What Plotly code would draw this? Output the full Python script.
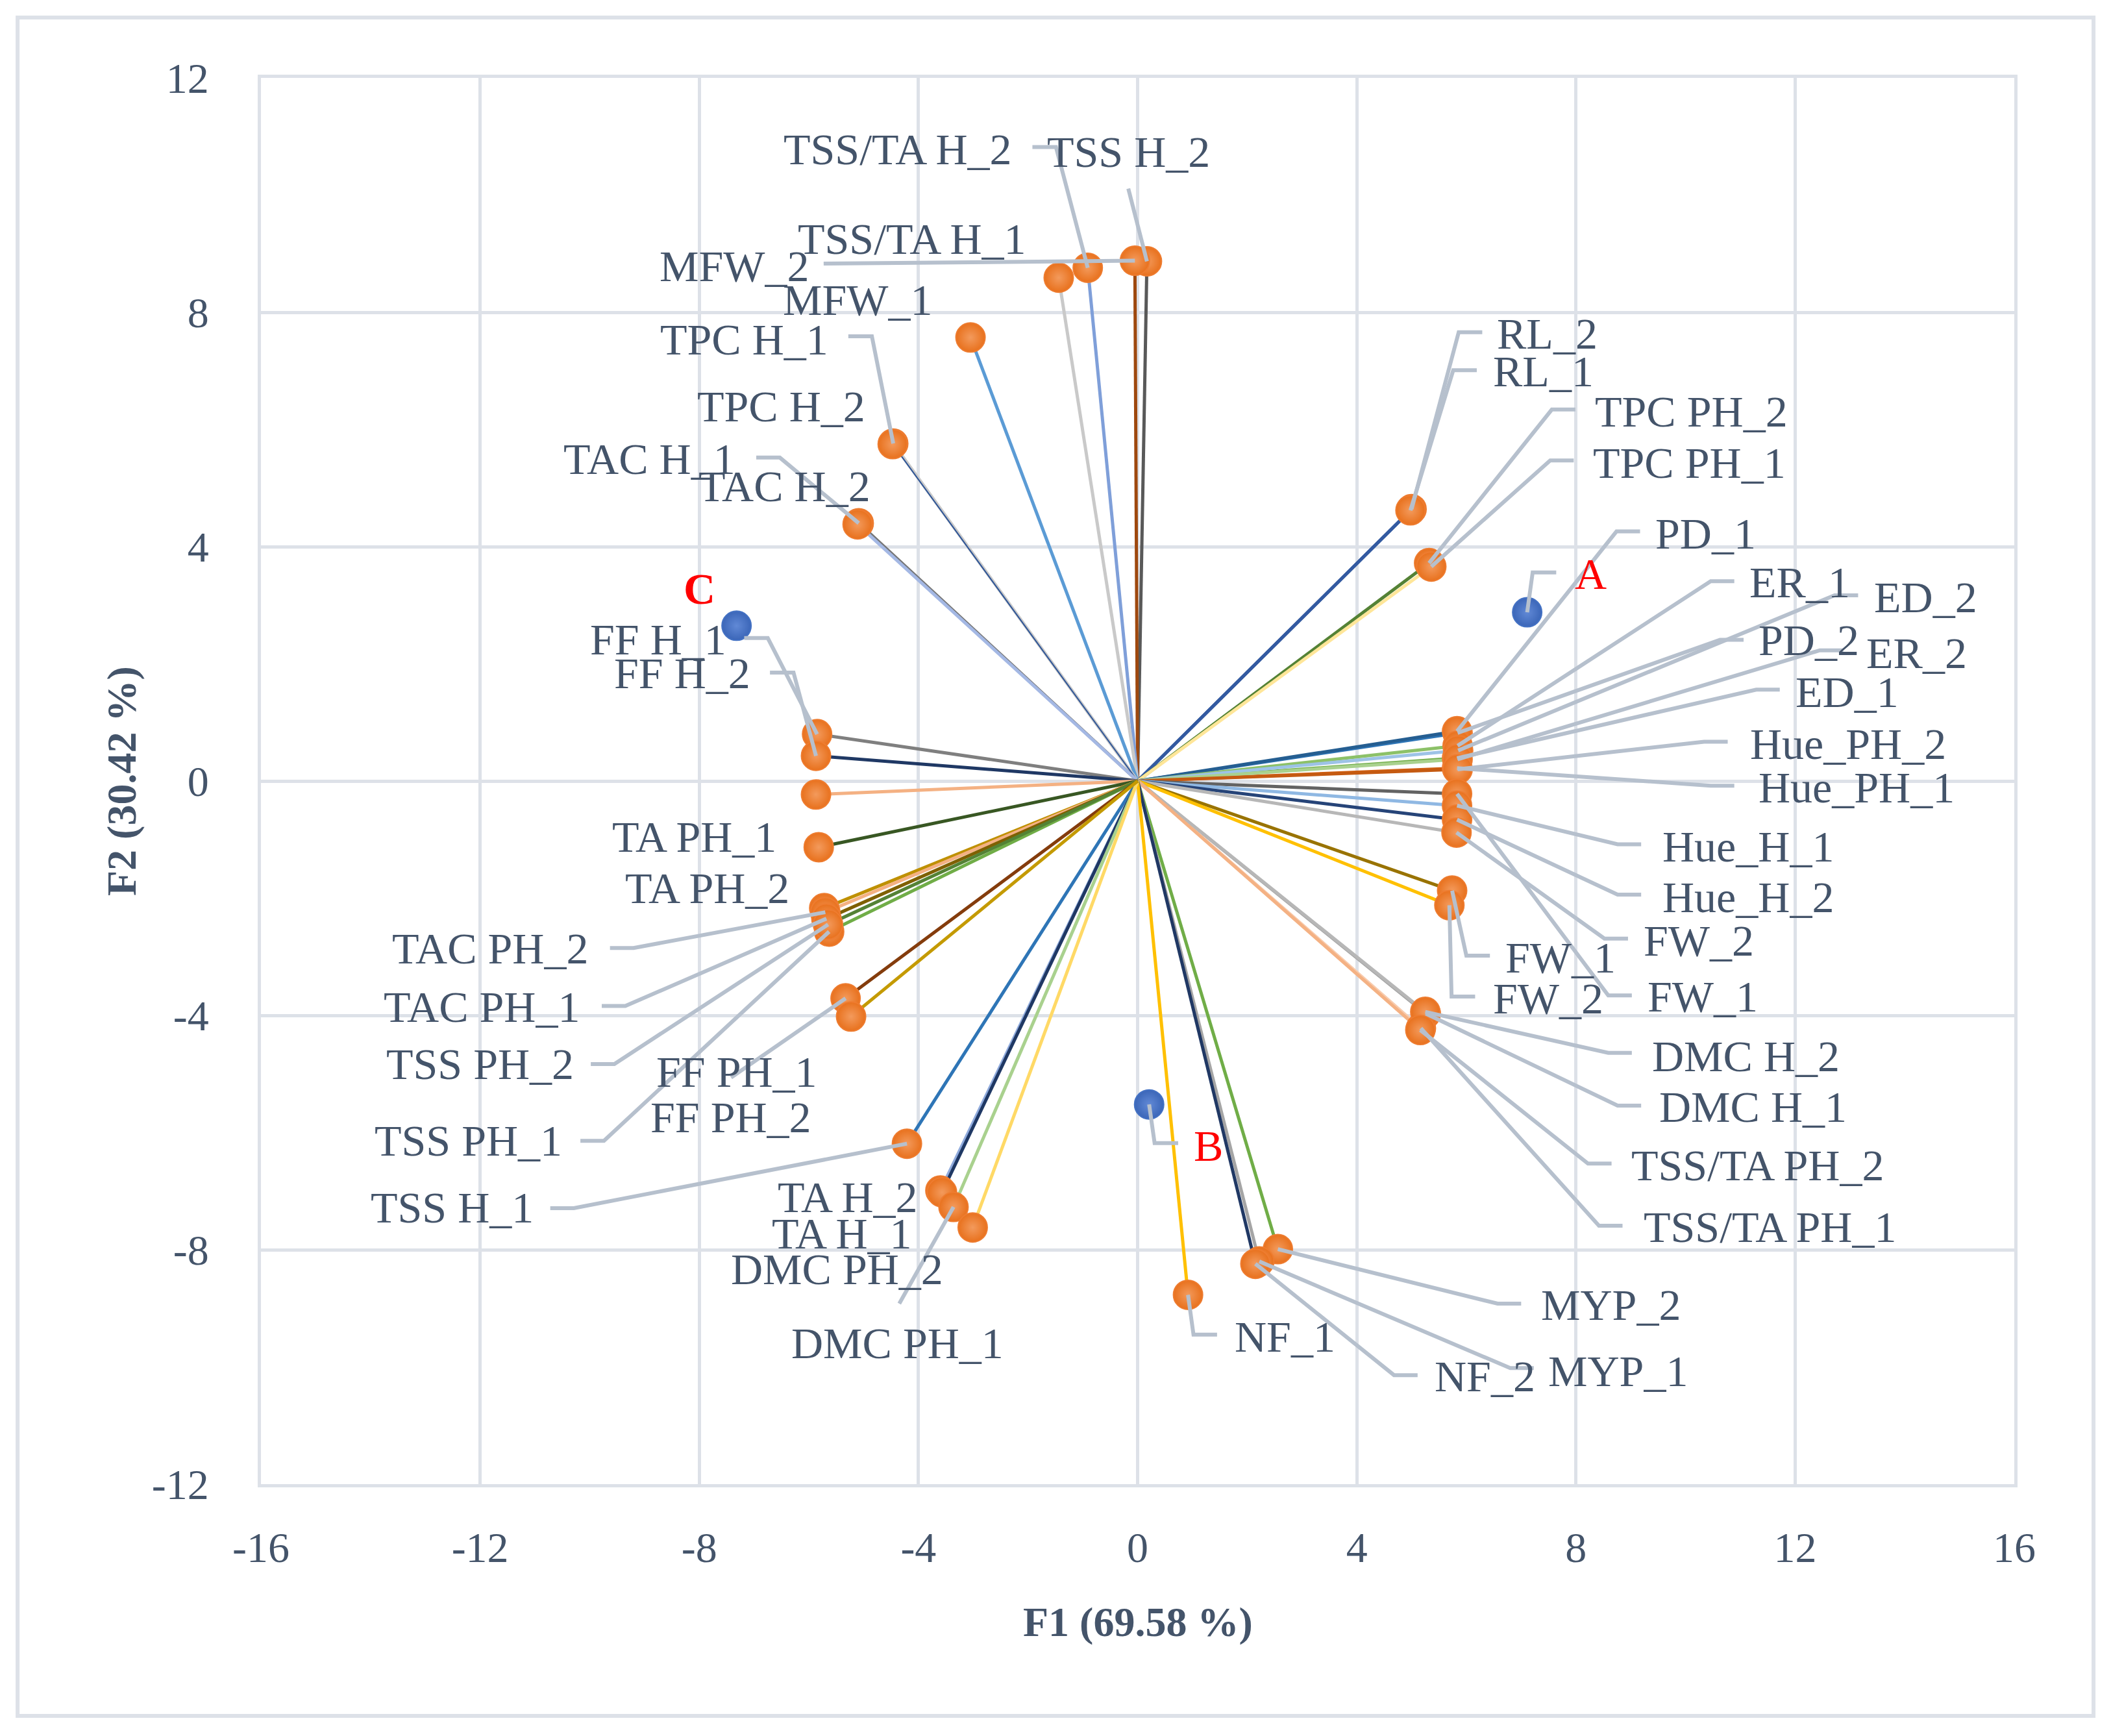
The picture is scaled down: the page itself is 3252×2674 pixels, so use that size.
import plotly.graph_objects as go

FONT = "Liberation Serif, Times New Roman, serif"
TEXT = "#44546a"
GRID = "#dde1e8"
LEADER = "#b6c0cd"

# variable loadings (F1, F2)
names = [
    "TSS H_2", "MFW_2", "TSS/TA H_2", "TSS/TA H_1", "MFW_1",
    "TPC H_1", "TPC H_2", "TAC H_1", "TAC H_2",
    "RL_2", "RL_1", "TPC PH_2", "TPC PH_1",
    "PD_2", "ED_1", "Hue_PH_1", "PD_1", "ER_1", "ED_2", "ER_2", "Hue_PH_2",
    "FW_1", "Hue_H_1", "Hue_H_2", "FW_2",
    "FW_1", "FW_2",
    "DMC H_1", "TSS/TA PH_1", "DMC H_2", "TSS/TA PH_2",
    "MYP_2", "MYP_1", "NF_2", "NF_1",
    "TSS H_1", "TA H_1", "TA H_2", "DMC PH_1", "DMC PH_2",
    "FF H_1", "FF H_2", "", "TA PH_1",
    "TA PH_2", "TAC PH_2", "TAC PH_1", "TSS PH_1", "TSS PH_2",
    "FF PH_1", "FF PH_2",
]
f1 = [
    0.17, -0.05, -0.91, -1.44, -3.05,
    -4.46, -4.47, -5.09, -5.11,
    5.00, 4.98, 5.32, 5.36,
    5.84, 5.83, 5.83, 5.83, 5.84, 5.85, 5.84, 5.84,
    5.83, 5.83, 5.83, 5.82,
    5.74, 5.69,
    5.26, 5.17, 5.25, 5.16,
    2.56, 2.22, 2.15, 0.92,
    -4.21, -3.60, -3.57, -3.36, -3.01,
    -5.85, -5.87, -5.87, -5.82,
    -5.72, -5.70, -5.68, -5.63, -5.65,
    -5.33, -5.23,
]
f2 = [
    8.87, 8.88, 8.76, 8.59, 7.57,
    5.76, 5.75, 4.40, 4.38,
    4.64, 4.62, 3.72, 3.66,
    0.82, 0.39, 0.22, 0.85, 0.60, 0.52, 0.37, 0.20,
    -0.22, -0.42, -0.66, -0.88,
    -1.87, -2.12,
    -3.97, -4.22, -3.94, -4.25,
    -7.99, -8.20, -8.24, -8.77,
    -6.19, -6.99, -7.02, -7.27, -7.62,
    0.80, 0.43, -0.23, -1.13,
    -2.17, -2.24, -2.35, -2.57, -2.45,
    -3.71, -4.02,
]

# observations
obs_names = ["A", "B", "C"]
obs_f1 = [7.11, 0.21, -7.32]
obs_f2 = [2.88, -5.52, 2.65]

# axis ticks
x_ticks = [-16, -12, -8, -4, 0, 4, 8, 12, 16]
x_ticktext = ["-16", "-12", "-8", "-4", "0", "4", "8", "12", "16"]
y_ticks = [-12, -8, -4, 0, 4, 8, 12]
y_ticktext = ["-12", "-8", "-4", "0", "4", "8", "12"]

# styling of the vectors
line_colors = [
    "#595959", "#9e480e", "#7f9fd9", "#c9c9c9", "#5b9bd5",
    "#c9c9c9", "#2e5597", "#757575", "#a4b8e4",
    "#2f5597", "#335aa1", "#548235", "#ffe699",
    "#2e75b6", "#70ad47", "#d26012", "#255e91", "#8cc168", "#9dc3e6", "#a9d18e", "#c55a11",
    "#636363", "#8fb8e3", "#264478", "#b7b7b7",
    "#997300", "#ffc000",
    "#a5a5a5", "#f8cbad", "#b7b7b7", "#f4b183",
    "#70ad47", "#a5a5a5", "#203864", "#ffc000",
    "#2e75b6", "#8faadc", "#1f3864", "#a9d18e", "#ffd966",
    "#7f7f7f", "#1f3864", "#f4b183", "#385723",
    "#bf9000", "#f4b183", "#7f6000", "#70ad47", "#548235",
    "#843c0c", "#c49a00",
]
line_widths = [5] * len(names)
line_widths[6] = 2

# label placement: text centre, leader end (None = no leader), elbow flag
lab_x = [
    -0.17, -7.36, -4.38, -4.12, -5.11,
    -7.18, -6.51, -8.91, -6.44,
    7.48, 7.40, 10.10, 10.07,
    12.25, 12.95, 13.12, 10.37, 12.09, 14.38, 14.22, 12.97,
    10.31, 11.14, 11.14, 10.24,
    7.72, 7.49,
    11.23, 11.54, 11.10, 11.32,
    8.64, 8.77, 6.34, 2.69,
    -12.51, -5.40, -5.29, -4.38, -5.48,
    -8.75, -8.31, None, -8.09,
    -7.85, -11.82, -11.97, -12.22, -12.00,
    -7.32, -7.42,
]
lab_y = [
    10.74, 8.79, 10.78, 9.25, 8.21,
    7.54, 6.39, 5.50, 5.03,
    7.63, 6.99, 6.31, 5.43,
    2.40, 1.52, -0.11, 4.22, 3.39, 3.14, 2.18, 0.63,
    -3.68, -1.12, -1.98, -2.73,
    -3.01, -3.71,
    -5.56, -7.61, -4.70, -6.56,
    -8.94, -10.07, -10.16, -9.48,
    -7.28, -7.72, -7.10, -9.60, -8.33,
    2.42, 1.84, None, -0.95,
    -1.83, -2.86, -3.86, -6.14, -4.83,
    -4.96, -5.74,
]
ldr_x = [
    -0.17, -5.73, -1.92, None, None,
    -5.28, None, -6.96, None,
    6.29, 6.19, 7.99, 7.96,
    11.06, 11.72, 10.89, 9.17, 10.89, 13.15, 12.88, 10.77,
    9.02, 9.19, 9.19, 8.95,
    6.43, 6.16,
    9.19, 8.85, 9.02, 8.65,
    7.00, 7.23, 5.11, 1.45,
    -10.72, None, None, -4.35, None,
    -7.18, -6.71, None, None,
    None, -9.63, -9.78, -10.17, -9.98,
    -7.42, None,
]
ldr_y = [
    10.11, 8.83, 10.82, None, None,
    7.59, None, 5.52, None,
    7.66, 7.01, 6.34, 5.47,
    2.41, 1.56, -0.08, 4.26, 3.41, 3.17, 2.23, 0.67,
    -3.66, -1.08, -1.94, -2.69,
    -2.98, -3.68,
    -5.54, -7.59, -4.64, -6.53,
    -8.92, -10.02, -10.14, -9.45,
    -7.29, None, None, -8.92, None,
    2.44, 1.85, None, None,
    None, -2.85, -3.84, -6.14, -4.83,
    -5.06, None,
]
ldr_elbow = [True] * len(names)
for i in (0, 38, 49):
    ldr_elbow[i] = False

obs_lab_x = [8.27, 1.29, -8.00]
obs_lab_y = [3.53, -6.23, 3.28]
obs_ldr_x = [7.64, 0.74, None]
obs_ldr_y = [3.56, -6.18, None]

ELBOW = 0.43


def leader_path(px, py, lx, ly, elbow):
    if lx is None:
        return [], []
    if elbow:
        ex = lx + (ELBOW if px > lx else -ELBOW)
        return [px, ex, lx, None], [py, ly, ly, None]
    return [px, lx, None], [py, ly, None]


fig = go.Figure()

for i in range(len(names)):
    fig.add_trace(go.Scatter(
        x=[0, f1[i]], y=[0, f2[i]], mode="lines",
        line=dict(color=line_colors[i], width=line_widths[i]),
        hoverinfo="skip", showlegend=False,
    ))

fig.add_trace(go.Scatter(
    x=f1, y=f2, mode="markers", text=names, hoverinfo="text",
    marker=dict(size=45, color="#e8711d",
                gradient=dict(type="radial", color="#f39a5c"),
                line=dict(color="#ee7c30", width=2)),
    showlegend=False,
))
fig.add_trace(go.Scatter(
    x=obs_f1, y=obs_f2, mode="markers", text=obs_names, hoverinfo="text",
    marker=dict(size=45, color="#3b66b8",
                gradient=dict(type="radial", color="#6189d6"),
                line=dict(color="#4472c4", width=2)),
    showlegend=False,
))

lx_all, ly_all = [], []
for i in range(len(names)):
    xs, ys = leader_path(f1[i], f2[i], ldr_x[i], ldr_y[i], ldr_elbow[i])
    lx_all += xs
    ly_all += ys
for i in range(len(obs_names)):
    xs, ys = leader_path(obs_f1[i], obs_f2[i], obs_ldr_x[i], obs_ldr_y[i], True)
    lx_all += xs
    ly_all += ys
fig.add_trace(go.Scatter(
    x=lx_all, y=ly_all, mode="lines",
    line=dict(color=LEADER, width=6),
    hoverinfo="skip", showlegend=False,
))

for i in range(len(names)):
    if not names[i]:
        continue
    fig.add_annotation(x=lab_x[i], y=lab_y[i], text=names[i], showarrow=False,
                       xanchor="center", yanchor="middle",
                       font=dict(family=FONT, size=68, color=TEXT))
for i in range(len(obs_names)):
    txt = "<b>%s</b>" % obs_names[i] if obs_names[i] == "C" else obs_names[i]
    fig.add_annotation(x=obs_lab_x[i], y=obs_lab_y[i], text=txt, showarrow=False,
                       xanchor="center", yanchor="middle",
                       font=dict(family=FONT, size=68, color="#ff0000"))

# axis titles
fig.add_annotation(xref="paper", yref="paper", x=0.5, y=-0.098,
                   text="<b>F1 (69.58 %)</b>", showarrow=False,
                   xanchor="center", yanchor="middle",
                   font=dict(family=FONT, size=64, color=TEXT))
fig.add_annotation(xref="paper", yref="paper", x=-0.0796, y=0.5,
                   text="<b>F2 (30.42 %)</b>", showarrow=False, textangle=-90,
                   xanchor="center", yanchor="middle",
                   font=dict(family=FONT, size=64, color=TEXT))

# vertical axis line through x = 0
fig.add_shape(type="line", x0=0, x1=0, y0=-12, y1=12, layer="below",
              line=dict(color="#aeb9c8", width=5))
# chart-area border
fig.add_shape(type="rect", xref="paper", yref="paper",
              x0=-0.1388, x1=1.0452, y0=-0.1648, y1=1.0429,
              line=dict(color=GRID, width=6), layer="below")

axis_common = dict(
    showgrid=True, gridcolor=GRID, gridwidth=5,
    zeroline=False, showline=True, linecolor=GRID, linewidth=5, mirror=True,
    ticks="outside", ticklen=0, tickcolor="rgba(0,0,0,0)",
    tickfont=dict(family=FONT, size=66, color=TEXT),
)
fig.update_xaxes(range=[-16, 16], tickmode="array", tickvals=x_ticks,
                 ticktext=x_ticktext, ticklabelstandoff=36, **axis_common)
fig.update_yaxes(range=[-12, 12], tickmode="array", tickvals=y_ticks,
                 ticktext=y_ticktext, ticklabelstandoff=62, **axis_common)

fig.update_layout(
    width=3252, height=2674,
    margin=dict(l=394, r=157, t=112, b=396),
    paper_bgcolor="white", plot_bgcolor="white",
    showlegend=False,
)

fig.write_html("out.html")
